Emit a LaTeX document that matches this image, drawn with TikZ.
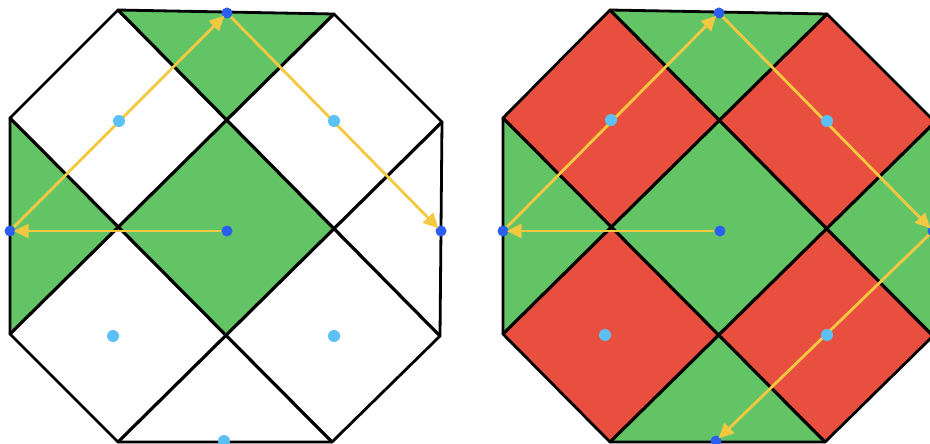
\documentclass[tikz,border=0pt]{standalone}
\usetikzlibrary{arrows.meta}
\definecolor{gr}{RGB}{99,196,102}
\definecolor{rd}{RGB}{233,79,63}
\definecolor{yl}{RGB}{245,200,66}
\definecolor{lb}{RGB}{91,192,246}
\definecolor{db}{RGB}{44,94,240}
\tikzset{
  edge/.style={line width=2.8pt, line join=round, line cap=round},
  inner/.style={line width=3.2pt, line cap=round},
  darkdot/.style={circle, fill=db, inner sep=0pt, minimum size=11pt},
  lightdot/.style={circle, fill=lb, inner sep=0pt, minimum size=12pt},
  arr/.style={draw=yl, line width=2.8pt, -{Triangle[length=15pt,width=14pt]}, shorten >=-2pt}
}
\begin{document}
\begin{tikzpicture}[x=1pt,y=-1pt]
\useasboundingbox (0,0) rectangle (930,444);
\clip (0,0) rectangle (930,444);
\fill[white] (0,0) rectangle (930,444);
% ---------- left octagon ----------
\coordinate (LA) at (118,10);  \coordinate (LB) at (334,14);
\coordinate (LC) at (442,122); \coordinate (LD) at (440,336);
\coordinate (LE) at (332,442); \coordinate (LF) at (118,442);
\coordinate (LG) at (10,334);  \coordinate (LH) at (10,118);
\coordinate (LP1) at (intersection of LA--LD and LG--LB);
\coordinate (LP2) at (intersection of LH--LE and LG--LB);
\coordinate (LP3) at (intersection of LA--LD and LF--LC);
\coordinate (LP4) at (intersection of LH--LE and LF--LC);
\fill[gr] (LA) -- (LB) -- (LP1) -- cycle;
\fill[gr] (LH) -- (LP2) -- (LG) -- cycle;
\fill[gr] (LP1) -- (LP3) -- (LP4) -- (LP2) -- cycle;
\draw[edge] (LA) -- (LB) -- (LC) -- (LD) -- (LE) -- (LF) -- (LG) -- (LH) -- cycle;
\draw[inner] (LA) -- (LD);
\draw[inner] (LH) -- (LE);
\draw[inner] (LG) -- (LB);
\draw[inner] (LF) -- (LC);
% ---------- right octagon ----------
\coordinate (RA) at (610,10);  \coordinate (RB) at (827,14);
\coordinate (RC) at (935,122); \coordinate (RD) at (933,336);
\coordinate (RE) at (825,442); \coordinate (RF) at (610,442);
\coordinate (RG) at (503,334); \coordinate (RH) at (503,118);
\coordinate (RP1) at (intersection of RA--RD and RG--RB);
\coordinate (RP2) at (intersection of RH--RE and RG--RB);
\coordinate (RP3) at (intersection of RA--RD and RF--RC);
\coordinate (RP4) at (intersection of RH--RE and RF--RC);
\fill[gr] (RA) -- (RB) -- (RC) -- (RD) -- (RE) -- (RF) -- (RG) -- (RH) -- cycle;
\fill[rd] (RH) -- (RA) -- (RP1) -- (RP2) -- cycle;
\fill[rd] (RP1) -- (RB) -- (RC) -- (RP3) -- cycle;
\fill[rd] (RP2) -- (RP4) -- (RF) -- (RG) -- cycle;
\fill[rd] (RP3) -- (RD) -- (RE) -- (RP4) -- cycle;
\draw[edge] (RA) -- (RB) -- (RC) -- (RD) -- (RE) -- (RF) -- (RG) -- (RH) -- cycle;
\draw[inner] (RA) -- (RD);
\draw[inner] (RH) -- (RE);
\draw[inner] (RG) -- (RB);
\draw[inner] (RF) -- (RC);
% ---------- dots ----------
\node[darkdot] (Lt) at (227,13) {};
\node[darkdot] (Ll) at (10,231) {};
\node[darkdot] (Lc) at (227,231) {};
\node[darkdot] (Lr) at (441,231) {};
\node[darkdot] (Rt) at (719,13) {};
\node[darkdot] (Rl) at (503,231) {};
\node[darkdot] (Rc) at (720,231) {};
\node[darkdot] (Rr) at (933,231) {};
\node[darkdot] (Rb) at (716,441) {};
% ---------- arrows ----------
\draw[arr] (Lc) -- (Ll);
\draw[arr] (Ll) -- (Lt);
\draw[arr] (Lt) -- (Lr);
\draw[arr] (Rc) -- (Rl);
\draw[arr] (Rl) -- (Rt);
\draw[arr] (Rt) -- (Rr);
\draw[arr] (Rr) -- (Rb);
% ---------- light dots ----------
\node[lightdot] (Lq1) at (119,121) {};
\node[lightdot] (Lq2) at (334,121) {};
\node[lightdot] (Lq3) at (113,336) {};
\node[lightdot] (Lq4) at (334,336) {};
\node[lightdot] (Lq5) at (224,441) {};
\node[lightdot] (Rq1) at (611,120) {};
\node[lightdot] (Rq2) at (827,121) {};
\node[lightdot] (Rq3) at (605,335) {};
\node[lightdot] (Rq4) at (827,335) {};
\end{tikzpicture}
\end{document}
